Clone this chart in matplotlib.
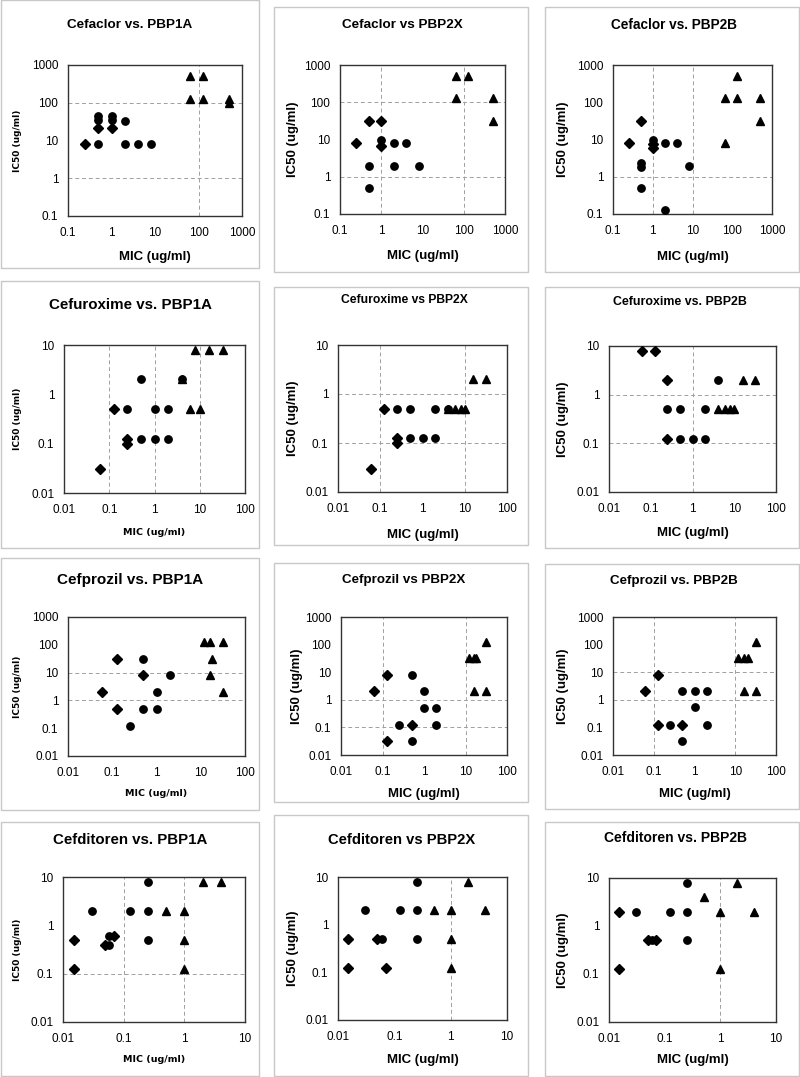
import matplotlib
matplotlib.use("Agg")
import matplotlib.pyplot as plt
from matplotlib.patches import Rectangle

plt.rcParams['font.family'] = ['Liberation Sans', 'DejaVu Sans']

W, H = 800, 1077

# ---------------- data (MIC, IC50) ----------------
cefaclor_pbp1a_diamonds = [(0.25, 8), (0.5, 21), (1, 21)]
cefaclor_pbp1a_circles = [(0.5, 45), (0.5, 35), (0.5, 8), (1, 45), (1, 35), (2, 32), (2, 8), (4, 8), (8, 8)]
cefaclor_pbp1a_triangles = [(64, 512), (128, 512), (64, 128), (128, 128), (512, 128), (512, 100)]

cefaclor_pbp2x_diamonds = [(0.25, 8), (0.5, 32), (1, 32), (1, 6.8)]
cefaclor_pbp2x_circles = [(1, 10), (0.5, 2), (0.5, 0.5), (2, 8), (4, 8), (2, 2), (8, 2)]
cefaclor_pbp2x_triangles = [(64, 512), (128, 512), (64, 128), (512, 128), (512, 32)]

cefaclor_pbp2b_diamonds = [(0.25, 8), (0.5, 32), (1, 7.5), (1, 6)]
cefaclor_pbp2b_circles = [(1, 10), (0.5, 2.3), (0.5, 1.8), (0.5, 0.5), (2, 8), (4, 8), (8, 2), (2, 0.125)]
cefaclor_pbp2b_triangles = [(128, 512), (64, 128), (128, 128), (512, 128), (512, 32), (64, 8)]

cefuroxime_pbp1a_diamonds = [(0.0625, 0.03), (0.125, 0.5), (0.25, 0.125), (0.25, 0.1)]
cefuroxime_pbp1a_circles = [(0.25, 0.5), (0.5, 2), (0.5, 0.125), (1, 0.5), (1, 0.125), (2, 0.5), (2, 0.125), (4, 2)]
cefuroxime_pbp1a_triangles = [(4, 2), (6, 0.5), (10, 0.5), (8, 8), (16, 8), (32, 8)]

cefuroxime_pbp2x_diamonds = [(0.06, 0.03), (0.125, 0.5), (0.25, 0.125), (0.25, 0.1)]
cefuroxime_pbp2x_circles = [(0.25, 0.5), (0.5, 0.5), (0.5, 0.125), (1, 0.125), (2, 0.5), (2, 0.125), (4, 0.5)]
cefuroxime_pbp2x_triangles = [(4, 0.5), (6, 0.5), (8, 0.5), (10, 0.5), (16, 2), (32, 2)]

cefuroxime_pbp2b_diamonds = [(0.0625, 8), (0.125, 8), (0.25, 2), (0.25, 0.125)]
cefuroxime_pbp2b_circles = [(0.25, 0.5), (0.5, 0.5), (0.5, 0.125), (1, 0.125), (2, 0.5), (2, 0.125), (4, 2)]
cefuroxime_pbp2b_triangles = [(4, 0.5), (6, 0.5), (8, 0.5), (10, 0.5), (16, 2), (32, 2)]

cefprozil_pbp1a_diamonds = [(0.06, 2), (0.125, 32), (0.125, 0.5), (0.5, 8)]
cefprozil_pbp1a_circles = [(0.25, 0.125), (0.5, 32), (0.5, 0.5), (1, 2), (1, 0.5), (2, 8)]
cefprozil_pbp1a_triangles = [(12, 128), (16, 128), (32, 128), (18, 32), (16, 8), (32, 2)]

cefprozil_pbp2x_diamonds = [(0.0625, 2), (0.125, 8), (0.125, 0.031), (0.5, 0.125)]
cefprozil_pbp2x_circles = [(0.25, 0.125), (0.5, 8), (0.5, 0.031), (1, 2), (1, 0.5), (2, 0.5), (2, 0.125)]
cefprozil_pbp2x_triangles = [(12, 32), (16, 32), (18, 32), (16, 2), (32, 2), (32, 128)]

cefprozil_pbp2b_diamonds = [(0.0625, 2), (0.125, 8), (0.125, 0.125), (0.5, 0.125)]
cefprozil_pbp2b_circles = [(0.25, 0.125), (0.5, 2), (0.5, 0.033), (1, 2), (1, 0.55), (2, 2), (2, 0.125)]
cefprozil_pbp2b_triangles = [(12, 32), (16, 32), (20, 32), (16, 2), (32, 2), (32, 128)]

cefditoren_pbp1a_diamonds = [(0.015, 0.5), (0.015, 0.125), (0.049, 0.4), (0.07, 0.6)]
cefditoren_pbp1a_circles = [(0.03, 2), (0.0575, 0.6), (0.0575, 0.4), (0.125, 2), (0.25, 8), (0.25, 2), (0.25, 0.5)]
cefditoren_pbp1a_triangles = [(0.5, 2), (1, 2), (1, 0.5), (1, 0.125), (2, 8), (4, 8)]

cefditoren_pbp2x_diamonds = [(0.015, 0.5), (0.015, 0.125), (0.05, 0.5), (0.07, 0.125)]
cefditoren_pbp2x_circles = [(0.03, 2), (0.06, 0.5), (0.125, 2), (0.25, 8), (0.25, 2), (0.25, 0.5)]
cefditoren_pbp2x_triangles = [(0.5, 2), (1, 2), (1, 0.5), (1, 0.125), (2, 8), (4, 2)]

cefditoren_pbp2b_diamonds = [(0.015, 2), (0.015, 0.125), (0.05, 0.5), (0.07, 0.5)]
cefditoren_pbp2b_circles = [(0.03, 2), (0.06, 0.5), (0.125, 2), (0.25, 8), (0.25, 2), (0.25, 0.5)]
cefditoren_pbp2b_triangles = [(0.5, 4), (1, 2), (1, 0.125), (2, 8), (4, 2)]

titles = ["Cefaclor vs. PBP1A", "Cefaclor vs PBP2X", "Cefaclor vs. PBP2B",
          "Cefuroxime vs. PBP1A", "Cefuroxime vs PBP2X", "Cefuroxime vs. PBP2B",
          "Cefprozil vs. PBP1A", "Cefprozil vs PBP2X", "Cefprozil vs. PBP2B",
          "Cefditoren vs. PBP1A", "Cefditoren vs PBP2X", "Cefditoren vs. PBP2B"]
x_label = "MIC (ug/ml)"
y_label = "IC50 (ug/ml)"

row_x_ticks = [[0.1, 1, 10, 100, 1000], [0.01, 0.1, 1, 10, 100],
               [0.01, 0.1, 1, 10, 100], [0.01, 0.1, 1, 10]]
row_y_ticks = [[0.1, 1, 10, 100, 1000], [0.01, 0.1, 1, 10],
               [0.01, 0.1, 1, 10, 100, 1000], [0.01, 0.1, 1, 10]]
row_x_ticklabels = [["0.1", "1", "10", "100", "1000"], ["0.01", "0.1", "1", "10", "100"],
                    ["0.01", "0.1", "1", "10", "100"], ["0.01", "0.1", "1", "10"]]
row_y_ticklabels = [["0.1", "1", "10", "100", "1000"], ["0.01", "0.1", "1", "10"],
                    ["0.01", "0.1", "1", "10", "100", "1000"], ["0.01", "0.1", "1", "10"]]

panels = [
    (cefaclor_pbp1a_diamonds, cefaclor_pbp1a_circles, cefaclor_pbp1a_triangles),
    (cefaclor_pbp2x_diamonds, cefaclor_pbp2x_circles, cefaclor_pbp2x_triangles),
    (cefaclor_pbp2b_diamonds, cefaclor_pbp2b_circles, cefaclor_pbp2b_triangles),
    (cefuroxime_pbp1a_diamonds, cefuroxime_pbp1a_circles, cefuroxime_pbp1a_triangles),
    (cefuroxime_pbp2x_diamonds, cefuroxime_pbp2x_circles, cefuroxime_pbp2x_triangles),
    (cefuroxime_pbp2b_diamonds, cefuroxime_pbp2b_circles, cefuroxime_pbp2b_triangles),
    (cefprozil_pbp1a_diamonds, cefprozil_pbp1a_circles, cefprozil_pbp1a_triangles),
    (cefprozil_pbp2x_diamonds, cefprozil_pbp2x_circles, cefprozil_pbp2x_triangles),
    (cefprozil_pbp2b_diamonds, cefprozil_pbp2b_circles, cefprozil_pbp2b_triangles),
    (cefditoren_pbp1a_diamonds, cefditoren_pbp1a_circles, cefditoren_pbp1a_triangles),
    (cefditoren_pbp2x_diamonds, cefditoren_pbp2x_circles, cefditoren_pbp2x_triangles),
    (cefditoren_pbp2b_diamonds, cefditoren_pbp2b_circles, cefditoren_pbp2b_triangles),
]

# ---------------- layout (pixels) ----------------
axes_px = [(68, 65, 242, 216), (340, 65, 505, 214), (613, 65, 772, 214),
           (64, 345, 245, 493), (338, 345, 507, 492), (609, 346, 776, 492),
           (68, 617, 245, 756), (341, 617, 507, 755), (613, 617, 776, 755),
           (63, 877, 245, 1022), (338, 877, 507, 1020), (609, 878, 776, 1022)]
frames_px = [(1, 0, 259, 268), (274, 7, 528, 272), (545, 7, 799, 272),
             (1, 281, 259, 548), (274, 287, 528, 545), (545, 287, 799, 548),
             (1, 558, 259, 810), (274, 563, 528, 802), (545, 564, 799, 809),
             (1, 822, 259, 1076), (274, 815, 528, 1076), (545, 822, 799, 1076)]
title_pos = [(130, 25), (402, 25), (674, 25),
             (130, 305), (404, 300), (680, 302),
             (130, 580), (404, 580), (674, 581),
             (130, 840), (402, 840), (675, 838)]
title_size = [9.7, 9.7, 9.8, 10.9, 8.7, 8.9, 11.0, 9.6, 9.6, 10.8, 10.6, 10.0]
xlabel_y = [257, 256, 257, 533, 535, 533, 793, 794, 794, 1059, 1060, 1060]
ylabel_x = [17, 293, 563, 17, 293, 563, 17, 297, 563, 17, 293, 563]
vgrid = [[100], [1, 100], [1, 10], [0.1, 1, 10], [0.1, 10], [1],
         [], [0.1, 10], [0.1, 10], [0.1, 1], [1], [1]]
hgrid = [[100, 1], [100, 1], [1], [], [1, 0.1], [1, 0.1],
         [10, 1], [1, 0.1], [10, 1], [0.1], [], []]

fig = plt.figure(figsize=(W / 100, H / 100), dpi=100)

def fx(x):
    return x / W

def fy(y):
    return 1 - y / H

for (l, t, r, b) in frames_px:
    fig.patches.append(Rectangle((fx(l), fy(b)), (r - l) / W, (b - t) / H,
                                 transform=fig.transFigure, fill=False,
                                 edgecolor="#c8c8c8", linewidth=1.0))

for i, (dia, cir, tri) in enumerate(panels):
    row = i // 3
    col = i % 3
    l, t, r, b = axes_px[i]
    ax = fig.add_axes([fx(l), fy(b), (r - l) / W, (b - t) / H])
    ax.set_xscale("log")
    ax.set_yscale("log")
    xt = row_x_ticks[row]
    yt = row_y_ticks[row]
    ax.set_xlim(xt[0], xt[-1])
    ax.set_ylim(yt[0], yt[-1])
    ax.set_xticks(xt)
    ax.set_xticklabels(row_x_ticklabels[row])
    ax.set_yticks(yt)
    ax.set_yticklabels(row_y_ticklabels[row])
    ax.minorticks_off()
    ax.tick_params(length=0, labelsize=8.5, pad=7, colors="black")
    ax.tick_params(axis="x", pad=8)
    for sp in ax.spines.values():
        sp.set_color("#333333")
        sp.set_linewidth(1.0)
    for v in vgrid[i]:
        ax.axvline(v, color="#a0a0a0", linestyle=(0, (4, 3)), linewidth=0.7, zorder=1)
    for h in hgrid[i]:
        ax.axhline(h, color="#a0a0a0", linestyle=(0, (4, 3)), linewidth=0.7, zorder=1)

    ax.plot([p[0] for p in dia], [p[1] for p in dia], linestyle="none", marker="D",
            markersize=4.6, color="black", zorder=3)
    ax.plot([p[0] for p in cir], [p[1] for p in cir], linestyle="none", marker="o",
            markersize=5.3, color="black", zorder=3)
    ax.plot([p[0] for p in tri], [p[1] for p in tri], linestyle="none", marker="^",
            markersize=6.4, color="black", zorder=3)

    tx, ty = title_pos[i]
    fig.text(fx(tx), fy(ty), titles[i], ha="center", va="center",
             fontsize=title_size[i], fontweight="bold")

    small = (col == 0)
    if small and row > 0:
        fig.text(fx((l + r) / 2), fy(xlabel_y[i]), x_label, ha="center", va="center",
                 fontsize=6.8, fontweight="bold", family=["DejaVu Sans"])
    else:
        fig.text(fx((l + r) / 2), fy(xlabel_y[i]), x_label, ha="center", va="center",
                 fontsize=9.5, fontweight="bold")
    if small:
        fig.text(fx(ylabel_x[i]), fy((t + b) / 2), y_label, ha="center", va="center",
                 rotation=90, fontsize=6.5, fontweight="bold", family=["DejaVu Sans"])
    else:
        fig.text(fx(ylabel_x[i]), fy((t + b) / 2), y_label, ha="center", va="center",
                 rotation=90, fontsize=9.5, fontweight="bold")

fig.savefig("out.png", dpi=100)
